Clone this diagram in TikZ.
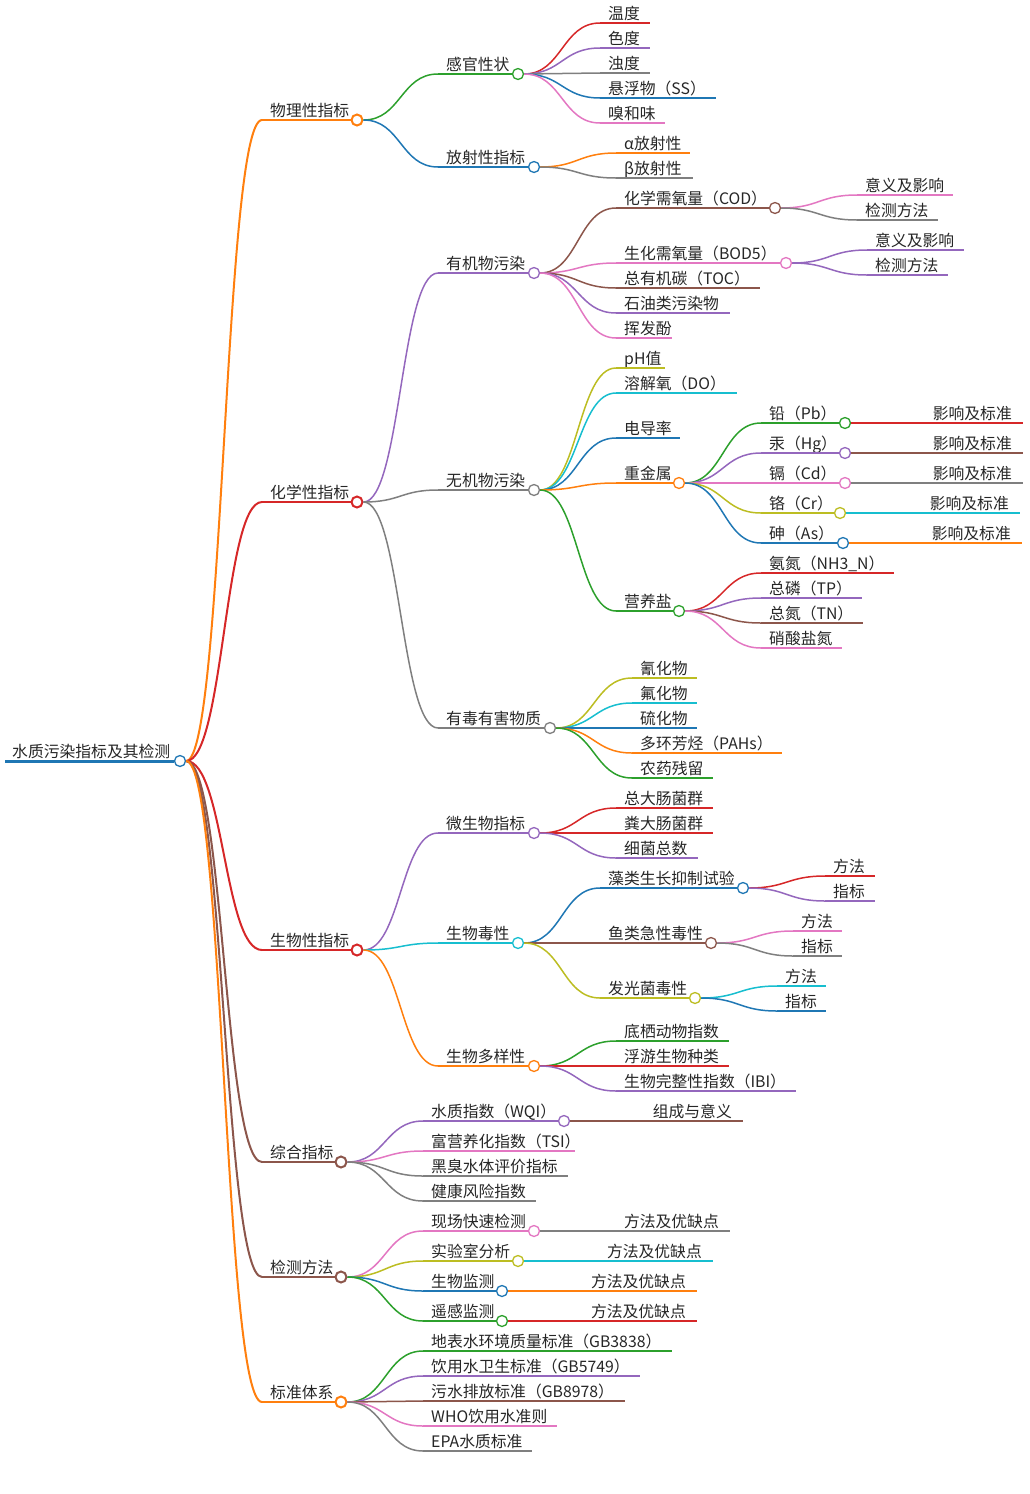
\documentclass[tikz,border=0pt]{standalone}
\usepackage{fontspec}
\setmainfont{Noto Sans CJK SC}
\usetikzlibrary{calc}
\definecolor{cOr}{HTML}{FF7F0E}\definecolor{cRe}{HTML}{D62728}\definecolor{cGr}{HTML}{2CA02C}
\definecolor{cBl}{HTML}{1F77B4}\definecolor{cPu}{HTML}{9467BD}\definecolor{cBr}{HTML}{8C564B}
\definecolor{cPi}{HTML}{E377C2}\definecolor{cGy}{HTML}{7F7F7F}\definecolor{cOl}{HTML}{BCBD22}
\definecolor{cCy}{HTML}{17BECF}
\tikzset{link/.style={line width=1.5pt},
 lab/.style={inner sep=0pt,font=\fontsize{15.8}{16}\selectfont,text=black!85},
 dot/.style={circle,fill=white,line width=1.3pt,minimum size=11pt,inner sep=0pt}}
\newcommand\curve[4]{% parent childstart xs color
 \path (#1.east); \pgfgetlastxy{\px}{\py}; \pgfmathsetmacro\dx{(#3pt-\px)/2}
 \draw[link,#4] (#1.east) .. controls +(\dx pt,0) and +(-\dx pt,0) .. (#2);}
% name parent xs xe y color text
\newcommand\bn[7]{\coordinate (#1s) at (#3,#5); \curve{#2}{#1s}{#3}{#6}
 \node[lab,anchor=base west] (#1t) at (#3+8,#5-4) {#7};
 \node[dot,draw=#6] (#1) at (#4,#5) {}; \draw[link,#6] (#1s) -- (#1.west);}
\newcommand\bl[7]{\coordinate (#1s) at (#3,#5); \curve{#2}{#1s}{#3}{#6}
 \node[lab,anchor=base west] (#1t) at (#3+8,#5-4) {#7};
 \coordinate (#1) at (#4,#5); \draw[link,#6] (#1s) -- (#1);}
\newcommand\blr[5]{% name parent xe color text
 \coordinate (#1) at (#3,0|-#2); \draw[link,#4] (#2.east) -- (#1);
 \node[lab,anchor=base east] (#1t) at ($(#1)+(-11,-4)$) {#5};}
\begin{document}
\begin{tikzpicture}[x=1pt,y=-1pt]
\useasboundingbox (0,0) rectangle (1029,1494);
\coordinate (roots) at (5,761);
\node[dot,draw=cBl] (root) at (180,761) {};
\draw[cBl,line width=3pt] (roots) -- (root.west);
\node[lab,anchor=base west] (roott) at (12,757) {水质污染指标及其检测};
% level 1
\bn{phy}{root}{262}{357}{120}{cOr,line width=2pt}{物理性指标}
\bn{chem}{root}{262}{357}{502}{cRe,line width=2pt}{化学性指标}
\bn{bio}{root}{262}{357}{950}{cRe,line width=2pt}{生物性指标}
\bn{comp}{root}{262}{341}{1162}{cBr,line width=2pt}{综合指标}
\bn{det}{root}{262}{341}{1277}{cBr,line width=2pt}{检测方法}
\bn{std}{root}{262}{341}{1402}{cOr,line width=2pt}{标准体系}
% physical
\bn{sense}{phy}{438}{518}{74}{cGr}{感官性状}
\bn{rad}{phy}{438}{534}{167}{cBl}{放射性指标}
\bl{s1}{sense}{600}{650}{23}{cRe}{温度}
\bl{s2}{sense}{600}{650}{48}{cPu}{色度}
\bl{s3}{sense}{600}{650}{73}{cGy}{浊度}
\bl{s4}{sense}{600}{716}{98}{cBl}{悬浮物（SS）}
\bl{s5}{sense}{600}{665}{123}{cPi}{嗅和味}
\bl{r1}{rad}{616}{690}{153}{cOr}{α放射性}
\bl{r2}{rad}{616}{693}{178}{cGy}{β放射性}
% chemical
\bn{org}{chem}{438}{534}{273}{cPu}{有机物污染}
\bn{inorg}{chem}{438}{534}{490}{cGy}{无机物污染}
\bn{tox}{chem}{438}{550}{728}{cGy}{有毒有害物质}
\bn{cod}{org}{616}{775}{208}{cBr}{化学需氧量（COD）}
\bn{bod}{org}{616}{786}{263}{cPi}{生化需氧量（BOD5）}
\bl{o3}{org}{616}{760}{288}{cBr}{总有机碳（TOC）}
\bl{o4}{org}{616}{730}{313}{cPu}{石油类污染物}
\bl{o5}{org}{616}{672}{338}{cPi}{挥发酚}
\bl{cod1}{cod}{857}{953}{195}{cPi}{意义及影响}
\bl{cod2}{cod}{857}{938}{220}{cGy}{检测方法}
\bl{bod1}{bod}{867}{964}{250}{cPu}{意义及影响}
\bl{bod2}{bod}{867}{948}{275}{cPu}{检测方法}
\bl{i1}{inorg}{616}{665}{368}{cOl}{pH值}
\bl{i2}{inorg}{616}{737}{393}{cCy}{溶解氧（DO）}
\bl{i3}{inorg}{616}{680}{438}{cBl}{电导率}
\bn{hm}{inorg}{616}{679}{483}{cOr}{重金属}
\bn{nut}{inorg}{616}{679}{611}{cGr}{营养盐}
\bn{pb}{hm}{761}{845}{423}{cGr}{铅（Pb）}
\bn{hg}{hm}{761}{845}{453}{cPu}{汞（Hg）}
\bn{cd}{hm}{761}{845}{483}{cPi}{镉（Cd）}
\bn{cr}{hm}{761}{840}{513}{cOl}{铬（Cr）}
\bn{as}{hm}{761}{843}{543}{cBl}{砷（As）}
\blr{pb1}{pb}{1023}{cRe}{影响及标准}
\blr{hg1}{hg}{1023}{cBr}{影响及标准}
\blr{cd1}{cd}{1023}{cGy}{影响及标准}
\blr{cr1}{cr}{1020}{cCy}{影响及标准}
\blr{as1}{as}{1022}{cOr}{影响及标准}
\bl{n1}{nut}{761}{894}{573}{cRe}{氨氮（NH3\_N）}
\bl{n2}{nut}{761}{862}{598}{cPu}{总磷（TP）}
\bl{n3}{nut}{761}{863}{623}{cBr}{总氮（TN）}
\bl{n4}{nut}{761}{842}{648}{cPi}{硝酸盐氮}
\bl{t1}{tox}{632}{697}{678}{cOl}{氰化物}
\bl{t2}{tox}{632}{697}{703}{cCy}{氟化物}
\bl{t3}{tox}{632}{697}{728}{cBl}{硫化物}
\bl{t4}{tox}{632}{782}{753}{cOr}{多环芳烃（PAHs）}
\bl{t5}{tox}{632}{713}{778}{cGr}{农药残留}
% biological
\bn{micro}{bio}{438}{534}{833}{cPu}{微生物指标}
\bn{btox}{bio}{438}{518}{943}{cCy}{生物毒性}
\bn{bdiv}{bio}{438}{534}{1066}{cOr}{生物多样性}
\bl{m1}{micro}{616}{713}{808}{cRe}{总大肠菌群}
\bl{m2}{micro}{616}{713}{833}{cRe}{粪大肠菌群}
\bl{m3}{micro}{616}{698}{858}{cPu}{细菌总数}
\bn{algae}{btox}{600}{743}{888}{cBl}{藻类生长抑制试验}
\bn{fish}{btox}{600}{711}{943}{cBr}{鱼类急性毒性}
\bn{lum}{btox}{600}{695}{998}{cOl}{发光菌毒性}
\bl{a1}{algae}{825}{875}{876}{cRe}{方法}
\bl{a2}{algae}{825}{875}{901}{cPu}{指标}
\bl{f1}{fish}{793}{842}{931}{cPi}{方法}
\bl{f2}{fish}{793}{842}{956}{cGy}{指标}
\bl{l1}{lum}{777}{826}{986}{cCy}{方法}
\bl{l2}{lum}{777}{826}{1011}{cBl}{指标}
\bl{d1}{bdiv}{616}{729}{1041}{cGr}{底栖动物指数}
\bl{d2}{bdiv}{616}{729}{1066}{cRe}{浮游生物种类}
\bl{d3}{bdiv}{616}{796}{1091}{cPu}{生物完整性指数（IBI）}
% composite
\bn{wqi}{comp}{423}{564}{1121}{cPu}{水质指数（WQI）}
\blr{wqi1}{wqi}{743}{cBr}{组成与意义}
\bl{c2}{comp}{423}{575}{1151}{cPi}{富营养化指数（TSI）}
\bl{c3}{comp}{423}{568}{1176}{cGy}{黑臭水体评价指标}
\bl{c4}{comp}{423}{536}{1201}{cGy}{健康风险指数}
% detection
\bn{field}{det}{423}{534}{1231}{cPi}{现场快速检测}
\bn{labo}{det}{423}{518}{1261}{cOl}{实验室分析}
\bn{biom}{det}{423}{502}{1291}{cBl}{生物监测}
\bn{rs}{det}{423}{502}{1321}{cGr}{遥感监测}
\blr{field1}{field}{730}{cGy}{方法及优缺点}
\blr{labo1}{labo}{713}{cCy}{方法及优缺点}
\blr{biom1}{biom}{697}{cOr}{方法及优缺点}
\blr{rs1}{rs}{697}{cRe}{方法及优缺点}
% standards
\bl{g1}{std}{423}{672}{1351}{cGr}{地表水环境质量标准（GB3838）}
\bl{g2}{std}{423}{640}{1376}{cPu}{饮用水卫生标准（GB5749）}
\bl{g3}{std}{423}{625}{1401}{cBr}{污水排放标准（GB8978）}
\bl{g4}{std}{423}{557}{1426}{cPi}{WHO饮用水准则}
\bl{g5}{std}{423}{532}{1451}{cGy}{EPA水质标准}
\end{tikzpicture}
\end{document}
